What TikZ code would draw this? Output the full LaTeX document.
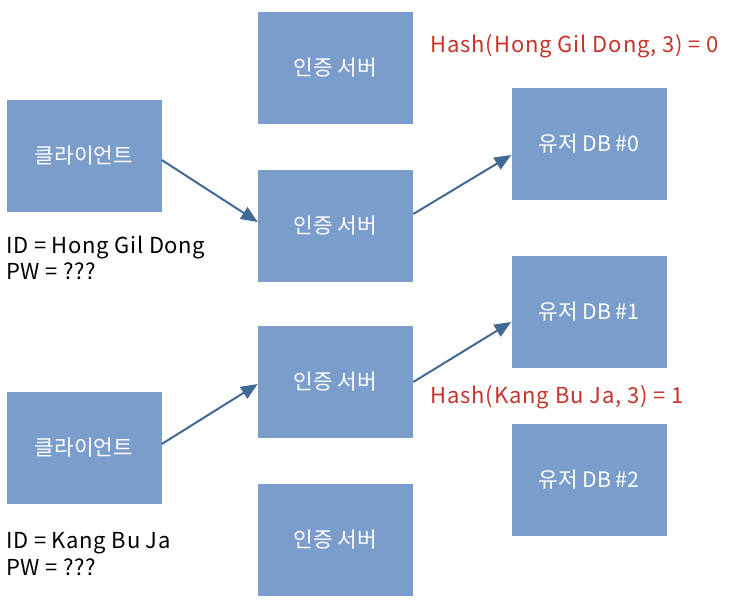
\documentclass[tikz,border=0pt]{standalone}
\usepackage{fontspec}
\setmainfont{Noto Sans CJK KR}
\usetikzlibrary{arrows.meta,positioning}
\definecolor{boxblue}{RGB}{123,157,204}
\definecolor{arrowblue}{RGB}{65,105,150}
\definecolor{hashred}{RGB}{196,52,42}
\tikzset{
  srvbox/.style={fill=boxblue, text=white, minimum width=155*0.75pt,
    minimum height=112*0.75pt, inner sep=0pt, font=\fontsize{16}{19}\selectfont},
  infotext/.style={anchor=west, align=left, inner sep=0pt,
    font=\fontsize{16.5}{20}\selectfont\addfontfeatures{LetterSpace=3}},
  hashtext/.style={anchor=west, inner sep=0pt, text=hashred,
    font=\fontsize{16.5}{19}\selectfont\addfontfeatures{LetterSpace=4}},
  flow/.style={-{Triangle[length=4.4mm, width=3.6mm]}, line width=1.5pt, draw=arrowblue},
}
\begin{document}
\begin{tikzpicture}[x=0.75pt, y=-0.75pt]
  \useasboundingbox (0,0) rectangle (736,601);

  %% ---- clients ----
  \node[srvbox] (client1) at (84,156) {클라이언트};
  \node[srvbox] (client2) at (84,448) {클라이언트};
  \node[infotext] (cred1) at (6,258) {ID = Hong Gil Dong\\PW = ???};
  \node[infotext] (cred2) at (6,554) {ID = Kang Bu Ja\\PW = ???};

  %% ---- auth servers ----
  \foreach \i/\py in {1/68, 2/226, 3/382, 4/540}{
    \node[srvbox] (auth\i) at (335.5,\py) {인증 서버};}

  %% ---- user DBs ----
  \foreach \i/\py in {0/144, 1/312, 2/480}{
    \node[srvbox] (db\i) at (589,\py) {유저 DB \#\i};}

  %% ---- hash labels ----
  \node[hashtext] (hash1) at (430,46) {Hash(Hong Gil Dong, 3) = 0};
  \node[hashtext] (hash2) at (430,397) {Hash(Kang Bu Ja, 3) = 1};

  %% ---- requests ----
  \draw[flow] (client1.east |- 0,160) -- (auth2.west |- 0,222);
  \draw[flow] (auth2.east |- 0,214) -- (db0.west |- 0,155);
  \draw[flow] (client2.east |- 0,444) -- (auth3.west |- 0,384);
  \draw[flow] (auth3.east |- 0,382) -- (db1.west |- 0,322);
\end{tikzpicture}
\end{document}
